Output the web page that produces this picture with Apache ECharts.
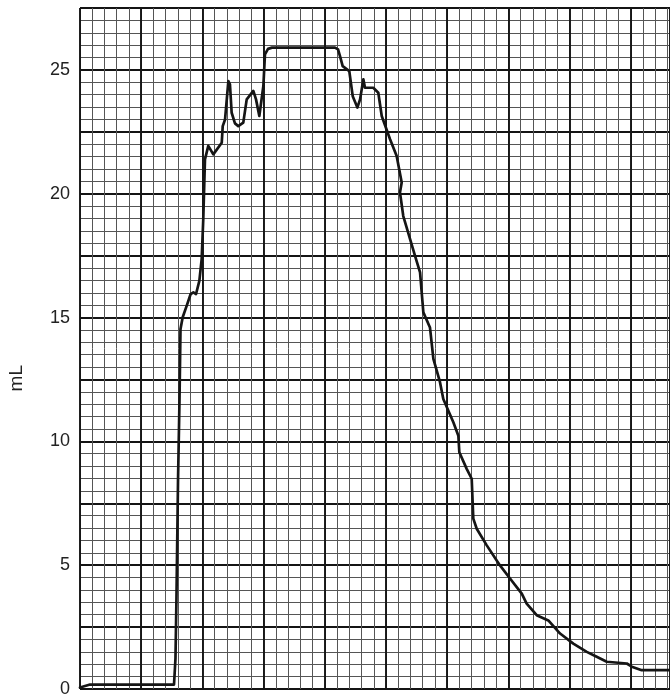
<!DOCTYPE html>
<html>
<head>
<meta charset="utf-8">
<script src="https://cdn.jsdelivr.net/npm/echarts@6/dist/echarts.min.js"></script>
<style>html,body{margin:0;padding:0;background:#fff}#c{width:670px;height:698px}</style>
</head>
<body>
<div id="c"></div>
<script>
// x in chart-paper minor divisions (no labels on x), y in mL
var timeDiv = [0,0.16,0.82,4.08,7.68,7.80,7.88,8.01,8.13,8.21,8.39,8.72,9.04,9.26,9.48,9.75,9.94,10.07,10.21,10.48,10.89,11.58,11.66,11.85,12.12,12.25,12.39,12.66,12.93,13.34,13.62,14.16,14.38,14.65,14.98,15.11,15.36,15.69,20.83,21.08,21.24,21.46,22.0,22.28,22.66,22.88,23.15,23.28,23.96,24.37,24.65,25.33,25.87,26.28,26.14,26.41,27.37,27.78,28.05,28.59,28.87,29.41,29.68,30.50,30.91,30.99,31.59,32.0,32.13,32.41,33.23,34.31,35.13,36.09,36.49,37.31,38.26,39.22,40.30,41.40,42.21,43.03,44.67,45.08,45.89,48.4];
var volumeML = [0.06,0.14,0.18,0.18,0.18,1.23,3.65,8.49,11.71,14.54,15.01,15.48,15.95,16.02,15.95,16.48,17.36,18.97,21.39,21.93,21.59,22.06,22.73,23.0,24.55,24.42,23.27,22.84,22.73,22.87,23.81,24.15,23.81,23.14,24.35,25.63,25.85,25.90,25.90,25.83,25.56,25.15,24.95,23.94,23.48,23.81,24.62,24.28,24.28,24.08,23.14,22.20,21.52,20.45,20.05,19.10,17.49,16.82,15.21,14.60,13.33,12.39,11.71,10.77,10.23,9.56,8.89,8.49,6.88,6.47,5.80,4.99,4.46,3.85,3.45,2.98,2.77,2.24,1.83,1.50,1.30,1.10,1.03,0.90,0.76,0.76];
var yTickLabels = [0,5,10,15,20,25];
var yAxisName = 'mL';

var X_MAX = 48.2, Y_MAX = 27.5;
var data = timeDiv.map(function(x,i){return [x, volumeML[i]];});
var minorLine = {show:true, lineStyle:{color:'#555', width:1}};
var majorLine = {show:true, lineStyle:{color:'#141414', width:1.9}};
var hidden = {axisLine:{show:false}, axisTick:{show:false}};
var chart = echarts.init(document.getElementById('c'), null, {renderer:'canvas'});
chart.setOption({
  animation:false,
  backgroundColor:'#fff',
  grid:{left:80, right:0, top:8, bottom:8, containLabel:false},
  xAxis:[
    Object.assign({type:'value', min:0, max:X_MAX, interval:1, axisLabel:{show:false}, splitLine:minorLine}, hidden),
    Object.assign({type:'value', min:0, max:X_MAX, interval:5, axisLabel:{show:false}, splitLine:majorLine, position:'bottom'}, hidden)
  ],
  yAxis:[
    Object.assign({type:'value', min:0, max:Y_MAX, interval:0.5, axisLabel:{show:false}, splitLine:minorLine, position:'left'}, hidden),
    Object.assign({type:'value', min:0, max:Y_MAX, interval:2.5, position:'left', splitLine:majorLine,
      axisLabel:{margin:10, fontSize:18, color:'#222', fontFamily:'Liberation Sans, Arial, sans-serif',
        formatter:function(v){return yTickLabels.indexOf(v)>=0 ? String(v) : '';}}}, hidden)
  ],
  graphic:[{type:'text', left:7, top:365, rotation:Math.PI/2,
    style:{text:yAxisName, fontSize:19, fill:'#222', fontFamily:'Liberation Sans, Arial, sans-serif'}}],
  series:[{type:'line', xAxisIndex:0, yAxisIndex:0, data:data, showSymbol:false, smooth:false, z:5,
    lineStyle:{color:'#151515', width:2.7, join:'round', cap:'round'}}]
});
</script>
</body>
</html>
